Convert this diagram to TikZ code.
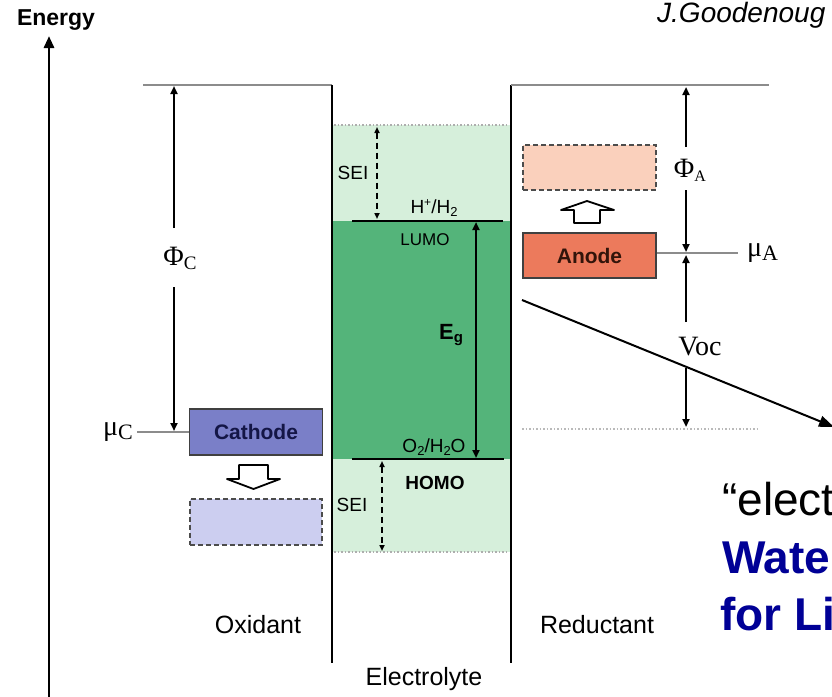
\documentclass[tikz,border=0pt]{standalone}
\usepackage{fontspec}
\setmainfont{Liberation Sans}
\newfontfamily\timesfont{Liberation Serif}
\usetikzlibrary{arrows.meta, positioning, calc}
\definecolor{seiGreen}{RGB}{214,239,219}
\definecolor{gapGreen}{RGB}{84,180,122}
\definecolor{cathBlue}{RGB}{122,127,200}
\definecolor{cathGhost}{RGB}{204,206,240}
\definecolor{cathText}{RGB}{20,22,70}
\definecolor{anodeRed}{RGB}{236,122,92}
\definecolor{anodeGhost}{RGB}{250,208,188}
\definecolor{anodeText}{RGB}{50,20,10}
\definecolor{slideNavy}{RGB}{0,0,150}
\definecolor{levelGray}{RGB}{140,140,140}
\newcommand{\fsz}[1]{\fontsize{#1}{#1}\selectfont}
\newcommand{\lowsub}[2]{\raisebox{-0.3ex}{\fsz{#1}#2}}

\begin{document}
\begin{tikzpicture}[x=1pt, y=-1pt,
    level/.style={draw=levelGray, line width=1.2pt},
    wall/.style={draw=black, line width=1.4pt},
    dim/.style={-{Triangle[length=8pt,width=7pt]}, line width=2.2pt},
    seiarr/.style={{Triangle[length=6pt,width=5pt]}-{Triangle[length=6pt,width=5pt]}, dash pattern=on 6pt off 4pt, line width=1.8pt},
    electrode/.style={draw=black!75, line width=1.8pt, minimum width=133pt, minimum height=46pt, inner sep=0pt, font=\fsz{21}\bfseries},
    ghost/.style={electrode, draw=black!70, line width=2pt, dash pattern=on 5pt off 3pt},
    txt/.style={inner sep=0pt, font=\fsz{19}},
    sym/.style={inner sep=0pt, font=\timesfont\fsz{28}},
    caption/.style={inner sep=0pt, font=\fsz{25}},
    blockarr/.style={draw=black, fill=white, line width=1.8pt, line join=round}
  ]
  \useasboundingbox (0,0) rectangle (832,696);
  \clip (0,0) rectangle (832,696);

  % level coordinates
  \coordinate (axisBot) at (49,700);
  \coordinate (axisTop) at (49,36);
  \coordinate (topL) at (143,85);
  \coordinate (wallLtop) at (332,85);
  \coordinate (wallLbot) at (332,663);
  \coordinate (wallRtop) at (511,85);
  \coordinate (wallRbot) at (511,663);
  \coordinate (topR) at (769,85);
  \coordinate (lumoL) at (352,221);
  \coordinate (lumoR) at (503,221);
  \coordinate (homoL) at (352,459);
  \coordinate (homoR) at (504,459);

  % electrolyte window
  \fill[seiGreen] (332,125) rectangle (511,221);
  \fill[seiGreen] (332,459) rectangle (511,552);
  \fill[gapGreen] (332,221) rectangle (511,459);
  \draw[levelGray!70, dotted, line width=1.5pt] (334,125) -- (509,125);
  \draw[levelGray!70, dotted, line width=1.5pt] (334,552) -- (509,552);

  \draw[line width=2.8pt, -{Triangle[length=12pt,width=10pt]}] (axisBot) -- (axisTop);
  \node[inner sep=0pt, font=\fsz{23}\bfseries] (energy) at (56,20) {Energy};

  \draw[level] (topL) -- (wallLtop);
  \draw[wall] (wallLtop) -- (wallLbot);
  \draw[wall] (wallRtop) -- (wallRbot);
  \draw[level] (wallRtop) -- (topR);
  \draw[line width=2.2pt] (lumoL) -- (lumoR);
  \draw[line width=2.2pt] (homoL) -- (homoR);

  \node[txt] (seiTop) at (353,173) {SEI};
  \draw[seiarr] (377,127) -- (377,219);
  \node[txt] (seiBot) at (352,505) {SEI};
  \draw[seiarr] (382,461) -- (382,551);
  \node[txt] (hplus) at (434,208) {H\raisebox{0.7ex}{\fsz{12}+}/H\lowsub{13}{2}};
  \node[inner sep=0pt, font=\fsz{17}] (lumo) at (425,240) {LUMO};
  \node[txt] (oxy) at (434,447) {O\lowsub{13}{2}/H\lowsub{13}{2}O};
  \node[inner sep=0pt, font=\fsz{19}\bfseries] (homo) at (435,483) {HOMO};
  \draw[line width=2.2pt, {Triangle[length=8pt,width=7pt]}-{Triangle[length=8pt,width=7pt]}] (476,222) -- (476,458);
  \node[inner sep=0pt, font=\fsz{22}\bfseries] (gap) at (451,335) {E\lowsub{15}{g}};

  % cathode side
  \node[electrode, fill=cathBlue, text=cathText] (cathode) at (256,432) {Cathode};
  \node[ghost, fill=cathGhost, minimum width=132pt, below=42pt of cathode] (cathShift) {};
  \draw[blockarr] (239,465) -- (239,479) -- (227,479) -- (253.5,489) -- (280,479) -- (268,479) -- (268,465) -- cycle;
  \coordinate (muCend) at (137,432);
  \draw[level] (muCend) -- (cathode.west);
  \node[sym, left=4pt of muCend] (muC) {μ\lowsub{22}{C}};
  \node[sym] (phiC) at (180,258) {Φ\lowsub{19}{C}};
  \draw[dim] (174,228) -- (174,86);
  \draw[dim] (174,287) -- (174,431);

  % anode side
  \node[electrode, fill=anodeRed, text=anodeText, minimum height=45pt] (anode) at (589.5,255.5) {Anode};
  \node[ghost, fill=anodeGhost, minimum height=45pt, above=41pt of anode] (anodeShift) {};
  \draw[blockarr] (574,223) -- (574,210) -- (561,210) -- (587,201) -- (614,210) -- (600,210) -- (600,223) -- cycle;
  \coordinate (muAend) at (738,253);
  \draw[level] (anode.east |- muAend) -- (muAend);
  \node[sym, right=9pt of muAend] (muA) {μ\lowsub{22}{A}};
  \node[sym] (phiA) at (690,170) {Φ\lowsub{16}{A}};
  \draw[dim] (686,147) -- (686,87);
  \draw[dim] (686,190) -- (686,252);
  \node[sym] (voc) at (700,347) {Voc};
  \draw[dim] (686,322) -- (686,255);
  \draw[dim] (686,368) -- (686,427);
  \draw[levelGray!60, dotted, line width=1.5pt] (522,429) -- (758,429);

  \node[caption] (oxidant) at (258,625) {Oxidant};
  \node[caption] (electrolyte) at (424,679) {Electrolyte};
  \node[caption] (reductant) at (597,625) {Reductant};

  % slide text cut by the right edge
  \coordinate (pointFrom) at (522,300);
  \coordinate (pointTo) at (834,427);
  \draw[line width=2pt, -{Triangle[length=15pt,width=11pt]}] (pointFrom) -- (pointTo);
  \node[anchor=base west, inner sep=0pt, font=\itshape\fsz{28}] (cite) at (657,22) {J.Goodenoug};
  \node[anchor=base west, inner sep=0pt, font=\fsz{46}] (quote) at (722,515) {“elect};
  \node[anchor=base west, inner sep=0pt, font=\fsz{46}\bfseries, text=slideNavy] (water) at (722,573) {Wate};
  \node[anchor=base west, inner sep=0pt, font=\fsz{46}\bfseries, text=slideNavy] (forLi) at (720,630) {for Li};
\end{tikzpicture}
\end{document}
